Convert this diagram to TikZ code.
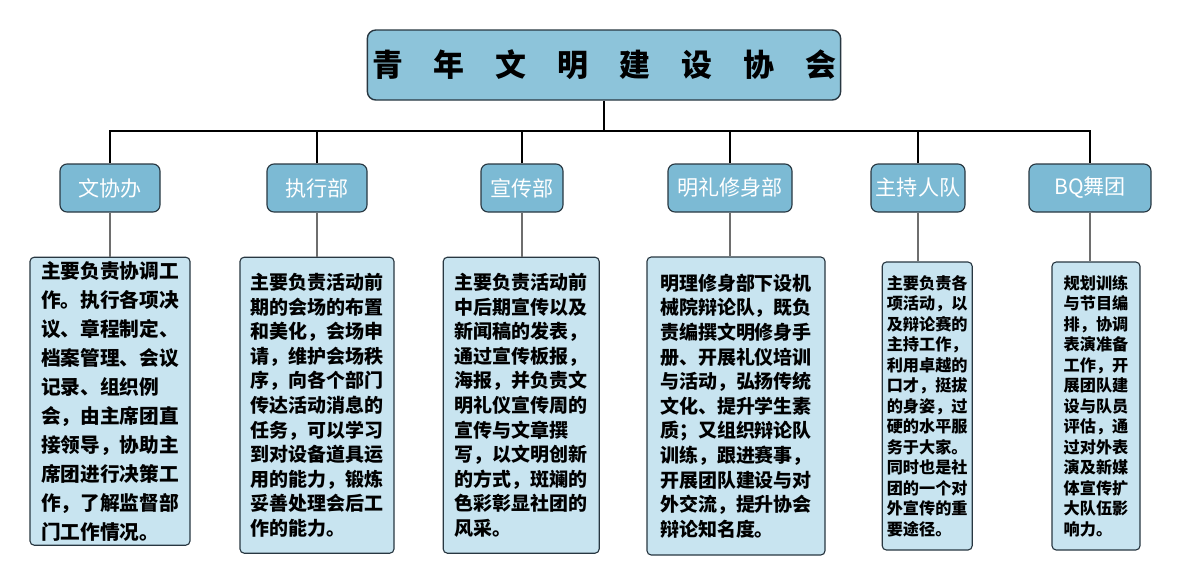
\documentclass[tikz,border=0pt]{standalone}
\usepackage{fontspec}
\newfontfamily\cjk{Noto Sans CJK SC}
\usetikzlibrary{positioning}
\definecolor{titlefill}{RGB}{141,196,218}
\definecolor{deptfill}{RGB}{124,186,212}
\definecolor{infofill}{RGB}{200,228,240}
\definecolor{boxline}{RGB}{40,55,65}
\definecolor{stemgray}{RGB}{110,110,110}

\begin{document}
\begin{tikzpicture}[
    titlebox/.style={rectangle, draw=boxline, fill=titlefill, line width=1pt,
        rounded corners=6pt, minimum width=8.05cm, minimum height=1.75cm,
        font=\cjk\bfseries\fontsize{22}{26}\selectfont},
    deptbox/.style={rectangle, draw=boxline, fill=deptfill, line width=0.8pt,
        rounded corners=5pt, minimum height=1.2cm, text=white,
        font=\cjk\fontsize{15}{18}\selectfont},
    infobox/.style={rectangle, draw=boxline, fill=infofill, line width=0.8pt,
        rounded corners=3pt, align=left, anchor=center, inner sep=2pt},
    bigtext/.style={font=\cjk\bfseries\fontsize{14}{20.6}\selectfont},
    midtext/.style={font=\cjk\bfseries\fontsize{13.5}{17.5}\selectfont},
    smalltext/.style={font=\cjk\bfseries\fontsize{11.5}{14.6}\selectfont},
    branch/.style={line width=1.5pt, black},
    stem/.style={line width=1.5pt, stemgray},
]
\useasboundingbox (0,0) rectangle (29.6,-14.65);

% === TOP ===
\node[titlebox] (assoc) at (15.1,-1.625) {青\quad 年\quad 文\quad 明\quad 建\quad 设\quad 协\quad 会};
\coordinate (bar) at (15.1,-3.275);

% === DEPARTMENTS ===
\node[deptbox, minimum width=2.5cm]  (wxb)  at (2.75,-4.7)  {文协办};
\node[deptbox, minimum width=2.5cm]  (zxb)  at (7.925,-4.7) {执行部};
\node[deptbox, minimum width=2.05cm] (xcb)  at (13.05,-4.7) {宣传部};
\node[deptbox, minimum width=3.1cm]  (mlxs) at (18.25,-4.7) {明礼修身部};
\node[deptbox, minimum width=2.35cm] (zcr)  at (22.95,-4.7) {主持人队};
\node[deptbox, minimum width=3.05cm] (bq)   at (27.25,-4.7) {BQ舞团};

% === DUTIES ===
\node[infobox, bigtext, minimum width=4.0cm, minimum height=7.2cm] (wxbinfo) at (2.75,-10.03)
    {主要负责协调工\\作。执行各项决\\议、章程制定、\\档案管理、会议\\记录、组织例\\会，由主席团直\\接领导，协助主\\席团进行决策工\\作，了解监督部\\门工作情况。};
\node[infobox, midtext, minimum width=3.85cm, minimum height=7.4cm] (zxbinfo) at (7.925,-10.13)
    {主要负责活动前\\期的会场的布置\\和美化，会场申\\请，维护会场秩\\序，向各个部门\\传达活动消息的\\任务，可以学习\\到对设备道具运\\用的能力，锻炼\\妥善处理会后工\\作的能力。};
\node[infobox, midtext, minimum width=3.9cm, minimum height=7.4cm] (xcbinfo) at (13.03,-10.13)
    {主要负责活动前\\中后期宣传以及\\新闻稿的发表，\\通过宣传板报，\\海报，并负责文\\明礼仪宣传周的\\宣传与文章撰\\写，以文明创新\\的方式，斑斓的\\色彩彰显社团的\\风采。};
\node[infobox, midtext, minimum width=4.45cm, minimum height=7.45cm] (mlxsinfo) at (18.4,-10.15)
    {明理修身部下设机\\械院辩论队，既负\\责编撰文明修身手\\册、开展礼仪培训\\与活动，弘扬传统\\文化、提升学生素\\质；又组织辩论队\\训练，跟进赛事，\\开展团队建设与对\\外交流，提升协会\\辩论知名度。};
\node[infobox, smalltext, minimum width=2.25cm, minimum height=7.2cm] (zcrinfo) at (23.18,-10.15)
    {主要负责各\\项活动，以\\及辩论赛的\\主持工作，\\利用卓越的\\口才，挺拔\\的身姿，过\\硬的水平服\\务于大家。\\同时也是社\\团的一个对\\外宣传的重\\要途径。};
\node[infobox, smalltext, minimum width=2.2cm, minimum height=7.2cm] (bqinfo) at (27.4,-10.15)
    {规划训练\\与节目编\\排，协调\\表演准备\\工作，开\\展团队建\\设与队员\\评估，通\\过对外表\\演及新媒\\体宣传扩\\大队伍影\\响力。};

% === CONNECTORS ===
\draw[branch] (assoc.south) -- (bar);
\draw[branch] (wxb.north) |- (bar) -| (bq.north);
\foreach \d in {zxb, xcb, mlxs, zcr}
    \draw[branch] (\d.north) -- (\d.north |- bar);

\foreach \d/\i in {wxb/wxbinfo, zxb/zxbinfo, xcb/xcbinfo, mlxs/mlxsinfo, zcr/zcrinfo, bq/bqinfo}
    \draw[stem] (\d.south) -- (\d.south |- \i.north);

\end{tikzpicture}
\end{document}
